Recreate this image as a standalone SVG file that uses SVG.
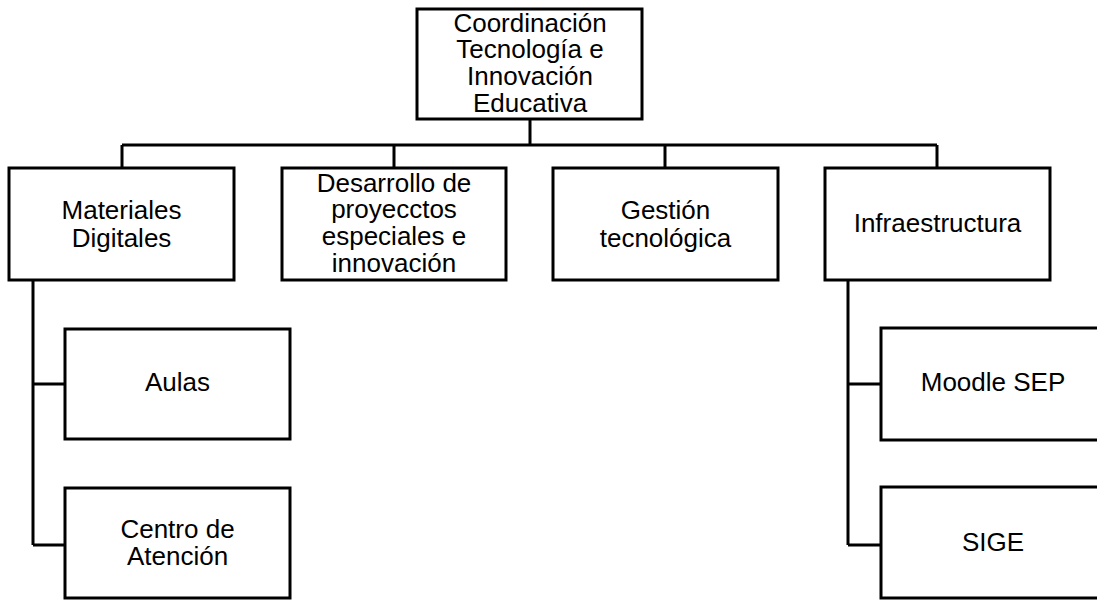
<svg xmlns="http://www.w3.org/2000/svg" width="1097" height="601" viewBox="0 0 1097 601">
<style>
.box{fill:#fff;stroke:#000;stroke-width:3}
.ln{fill:none;stroke:#000;stroke-width:3}
text{font-family:"Liberation Sans",Arial,sans-serif;font-size:26px;fill:#000;text-anchor:middle}
</style>
<rect width="1097" height="601" fill="#fff"/>
<g id="connectors">
<path class="ln" d="M530 119V145M122 145H937M122 145V168M394 145V168M665 145V168M937 145V168"/>
<path class="ln" d="M33 280V545M33 384H65M33 545H65"/>
<path class="ln" d="M848 280V545M848 384H881M848 545H881"/>
</g>
<g id="n-coord"><rect class="box" x="417" y="9" width="225" height="110"/>
<text x="530" y="32">Coordinación</text><text x="530" y="58">Tecnología e</text><text x="530" y="85">Innovación</text><text x="530" y="112">Educativa</text></g>
<g id="n-materiales"><rect class="box" x="9" y="168" width="225" height="112"/>
<text x="121.5" y="219">Materiales</text><text x="121.5" y="247">Digitales</text></g>
<g id="n-desarrollo"><rect class="box" x="282" y="168" width="224" height="112"/>
<text x="394" y="192">Desarrollo de</text><text x="394" y="218">proyecctos</text><text x="394" y="245">especiales e</text><text x="394" y="272">innovación</text></g>
<g id="n-gestion"><rect class="box" x="553" y="168" width="225" height="112"/>
<text x="665.5" y="219">Gestión</text><text x="665.5" y="247">tecnológica</text></g>
<g id="n-infra"><rect class="box" x="825" y="168" width="225" height="112"/>
<text x="937.5" y="232">Infraestructura</text></g>
<g id="n-aulas"><rect class="box" x="65" y="329" width="225" height="110"/>
<text x="177.5" y="391">Aulas</text></g>
<g id="n-centro"><rect class="box" x="65" y="488" width="225" height="110"/>
<text x="177.5" y="538">Centro de</text><text x="177.5" y="565">Atención</text></g>
<g id="n-moodle"><rect class="box" x="881" y="328" width="225" height="112"/>
<text x="993" y="391">Moodle SEP</text></g>
<g id="n-sige"><rect class="box" x="881" y="487" width="225" height="111"/>
<text x="993" y="551">SIGE</text></g>
</svg>
